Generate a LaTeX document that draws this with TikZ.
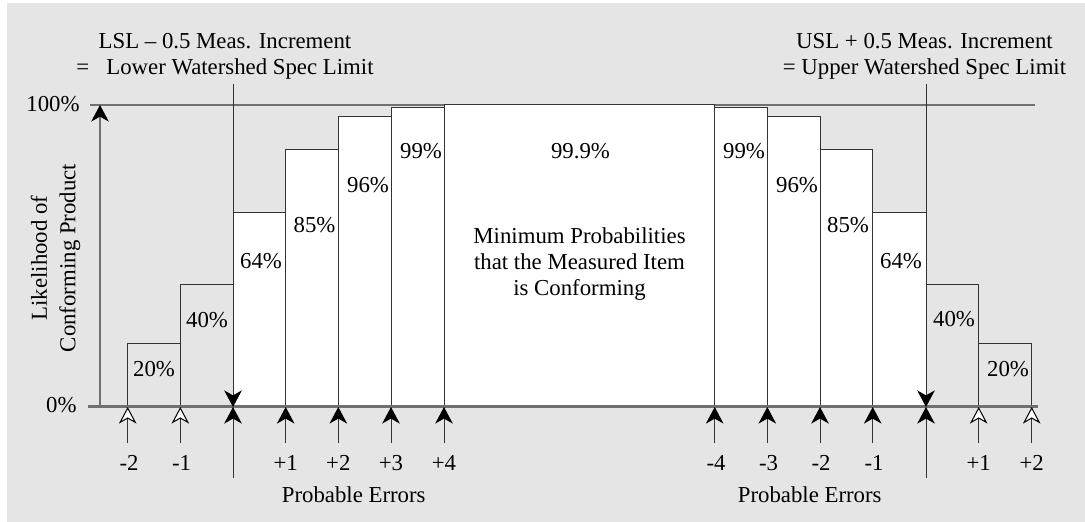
\documentclass[tikz,border=0pt]{standalone}
\usepackage{fontspec}
\setmainfont{Liberation Serif}
\usetikzlibrary{arrows.meta}
\definecolor{panelgray}{RGB}{229,229,229}
\definecolor{axisgray}{RGB}{112,112,112}

\begin{document}
\begin{tikzpicture}[x=0.5pt,y=-0.5pt,
  lbl/.style={inner sep=0pt,font=\fontsize{11.4}{13}\selectfont},
  bar/.style={draw=black!80,line width=0.5pt},
  tick/.style={draw=black!80,line width=0.5pt,-{Stealth[length=8.3pt,width=8.8pt,inset=2.5pt,color=black]}},
  opentick/.style={draw=black!80,line width=0.5pt,-{Stealth[length=8.3pt,width=8.8pt,inset=2.5pt,open,color=black,fill=white]}}]
\useasboundingbox (0,0) rectangle (1085,522);
\fill[panelgray] (7,3) rectangle (1085,522);

% reference lines
\coordinate (hl) at (90,105);
\coordinate (hr) at (1035,105);
\coordinate (bl) at (88,407);
\coordinate (br) at (1038,407);
\draw[axisgray,line width=0.8pt] (hl) -- (hr);

% bars, lower side
\draw[bar] (127.7,407) rectangle (180.3,344);
\draw[bar] (180.3,407) rectangle (233,285);
\draw[bar,fill=white] (233,407) rectangle (285.7,213);
\draw[bar,fill=white] (285.7,407) rectangle (338.3,150);
\draw[bar,fill=white] (338.3,407) rectangle (391,117);
\draw[bar,fill=white] (391,407) rectangle (444,108);
\draw[bar,fill=white] (444,407) rectangle (714.7,105);
% bars, upper side
\draw[bar,fill=white] (714.7,407) rectangle (767.3,108);
\draw[bar,fill=white] (767.3,407) rectangle (820,117);
\draw[bar,fill=white] (820,407) rectangle (872.7,150);
\draw[bar,fill=white] (872.7,407) rectangle (926,213);
\draw[bar] (926,407) rectangle (978.7,285);
\draw[bar] (978.7,407) rectangle (1031.7,344);

% y axis
\coordinate (yo) at (100,407);
\coordinate (yt) at (100,105);
\draw[axisgray,line width=1pt,-{Stealth[length=8.3pt,width=8.8pt,inset=2.5pt,color=black]}] (yo) -- (yt);
\draw[axisgray,line width=1.5pt] (bl) -- (br);

% watershed limits
\coordinate (lsltop) at (233,84);
\coordinate (lsl) at (233,407);
\coordinate (lslbot) at (233,478);
\coordinate (usltop) at (926,84);
\coordinate (usl) at (926,407);
\coordinate (uslbot) at (926,478);
\draw[tick] (lsltop) -- (lsl);
\draw[tick] (lslbot) -- (lsl);
\draw[tick] (usltop) -- (usl);
\draw[tick] (uslbot) -- (usl);

% probable error ticks
\coordinate (a1) at (127.7,407);  \coordinate (s1) at (127.7,443);
\coordinate (a2) at (180.3,407);  \coordinate (s2) at (180.3,443);
\coordinate (a3) at (285.7,407);  \coordinate (s3) at (285.7,443);
\coordinate (a4) at (338.3,407);  \coordinate (s4) at (338.3,443);
\coordinate (a5) at (391,407);    \coordinate (s5) at (391,443);
\coordinate (a6) at (444,407);    \coordinate (s6) at (444,443);
\coordinate (b1) at (714.7,407);  \coordinate (t1) at (714.7,443);
\coordinate (b2) at (767.3,407);  \coordinate (t2) at (767.3,443);
\coordinate (b3) at (820,407);    \coordinate (t3) at (820,443);
\coordinate (b4) at (872.7,407);  \coordinate (t4) at (872.7,443);
\coordinate (b5) at (978.7,407);  \coordinate (t5) at (978.7,443);
\coordinate (b6) at (1031.7,407); \coordinate (t6) at (1031.7,443);
\draw[opentick] (s1) -- (a1);
\draw[opentick] (s2) -- (a2);
\draw[tick] (s3) -- (a3);
\draw[tick] (s4) -- (a4);
\draw[tick] (s5) -- (a5);
\draw[tick] (s6) -- (a6);
\draw[tick] (t1) -- (b1);
\draw[tick] (t2) -- (b2);
\draw[tick] (t3) -- (b3);
\draw[tick] (t4) -- (b4);
\draw[opentick] (t5) -- (b5);
\draw[opentick] (t6) -- (b6);

% tick labels
\node[lbl] (e1) at (129,463) {-2};
\node[lbl] (e2) at (181.5,463) {-1};
\node[lbl] (e3) at (285.7,463) {+1};
\node[lbl] (e4) at (338.3,463) {+2};
\node[lbl] (e5) at (391,463) {+3};
\node[lbl] (e6) at (444,463) {+4};
\node[lbl] (f1) at (716,463) {-4};
\node[lbl] (f2) at (768.5,463) {-3};
\node[lbl] (f3) at (821,463) {-2};
\node[lbl] (f4) at (874,463) {-1};
\node[lbl] (f5) at (978.7,463) {+1};
\node[lbl] (f6) at (1031.7,463) {+2};
\node[lbl] (pel) at (353.7,494.5) {Probable Errors};
\node[lbl] (peu) at (809.7,494.5) {Probable Errors};

% bar values
\node[lbl] (v20l) at (154,369) {20\%};
\node[lbl] (v40l) at (207,320) {40\%};
\node[lbl] (v64l) at (261,261.5) {64\%};
\node[lbl] (v85l) at (314.5,225.5) {85\%};
\node[lbl] (v96l) at (368,185.5) {96\%};
\node[lbl] (v99l) at (421,151.5) {99\%};
\node[lbl] (v999) at (580.5,151.5) {99.9\%};
\node[lbl] (v99u) at (744,151.5) {99\%};
\node[lbl] (v96u) at (797,185.5) {96\%};
\node[lbl] (v85u) at (848,225.5) {85\%};
\node[lbl] (v64u) at (901,261.5) {64\%};
\node[lbl] (v40u) at (954,319) {40\%};
\node[lbl] (v20u) at (1008,369) {20\%};
\node[lbl,align=center] (mid) at (579.5,264.5) {Minimum Probabilities\\that the Measured Item\\is Conforming};

% axis labels
\node[lbl,anchor=east] (y100) at (80,104) {100\%};
\node[lbl,anchor=east] (y0) at (77,405.5) {0\%};
\node[lbl,align=center,rotate=90,font=\fontsize{11.4}{14.2}\selectfont] (ylab) at (55.5,258) {Likelihood of\\Conforming Product};
\node[lbl,align=center] (lslnote) at (225,56) {LSL – 0.5 Meas. Increment\\= \enspace Lower Watershed Spec Limit};
\node[lbl,align=center] (uslnote) at (924.5,56) {USL + 0.5 Meas. Increment\\= Upper Watershed Spec Limit};
\end{tikzpicture}
\end{document}
